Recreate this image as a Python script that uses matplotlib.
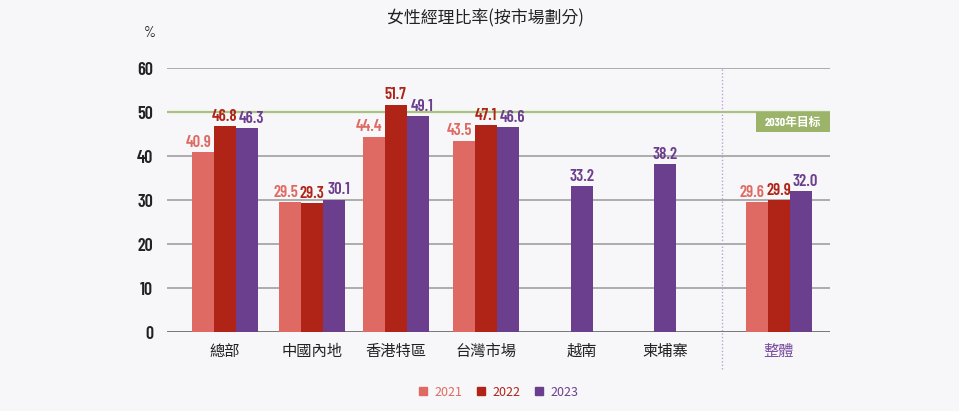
import matplotlib.pyplot as plt
import matplotlib.patches as mpatches
import numpy as np

plt.rcParams['font.family'] = ['Noto Sans CJK TC', 'DejaVu Sans']

categories = ['總部', '中國內地', '香港特區', '台灣市場', '越南', '柬埔寨', '整體']
years = ['2021', '2022', '2023']
v2021 = [40.9, 29.5, 44.4, 43.5, None, None, 29.6]
v2022 = [46.8, 29.3, 51.7, 47.1, None, None, 29.9]
v2023 = [46.3, 30.1, 49.1, 46.6, 33.2, 38.2, 32.0]
target = 50
target_label = '2030年目标'
yticks = [0, 10, 20, 30, 40, 50, 60]

colors = ['#df6a63', '#b02418', '#6c3f8e']
bg = '#f7f7f9'
num_font = ['Barlow Condensed', 'DejaVu Sans']

# group centres (uneven spacing, with a gap before the total)
pos = np.array([0, 1, 1.96, 3, 4.1, 5.06, 6.36])
w = 0.253
label_shift = 0.05  # outer value labels are pushed apart a little

fig = plt.figure(figsize=(9.59, 4.11), dpi=100, facecolor=bg)
ax = fig.add_axes([0.174, 0.1922, 0.6915, 0.6423], facecolor=bg)

for y in yticks[1:]:
    ax.axhline(y, color='#a0a0a0', linewidth=1.2, zorder=1)
ax.axhline(0, color='#777777', linewidth=1.4, zorder=3)
ax.axhline(target, color='#a9c27f', linewidth=1.6, zorder=2)

series = [v2021, v2022, v2023]
for i, vals in enumerate(series):
    for j, v in enumerate(vals):
        if v is None:
            continue
        n = sum(1 for s in series if s[j] is not None)
        if n == 1:
            x, lx = pos[j], pos[j]
        else:
            x = pos[j] + (i - 1) * w
            lx = x + (i - 1) * label_shift
        ax.bar(x, v, width=w, color=colors[i], zorder=4)
        ax.text(lx, v + 0.5, f'{v:.1f}', ha='center', va='bottom',
                color=colors[i], fontsize=12, fontweight='semibold',
                family=num_font, zorder=5)

# target label box
ax.add_patch(mpatches.Rectangle((6.10, 45.45), 0.85, 4.55, facecolor='#9cb46a',
                                edgecolor='none', zorder=6))
ax.text(6.525, 47.6, target_label, ha='center', va='center', color='white',
        fontsize=8.5, fontweight='bold', zorder=7,
        family=['Barlow Condensed', 'Noto Sans CJK SC'])

# dotted separator before total
sep = (pos[5] + pos[6]) / 2
ax.plot([sep, sep], [-8.5, 60], color='#b9a3d4', linestyle=(0, (1, 1.5)),
        linewidth=1, clip_on=False, zorder=2)

ax.set_xlim(-0.667, 6.95)
ax.set_ylim(0, 60)
ax.set_yticks(yticks)
ax.set_yticklabels([str(t) for t in yticks], family=num_font,
                   fontsize=13, fontweight='semibold', color='#222222')
ax.tick_params(axis='y', length=0, pad=10)
ax.set_xticks(pos)
ax.set_xticklabels(categories, fontsize=11, fontweight='medium', color='#222222')
ax.get_xticklabels()[-1].set_color('#7a4fa0')
ax.tick_params(axis='x', length=0, pad=8)
for s in ax.spines.values():
    s.set_visible(False)

ax.text(-0.86, 68, '%', ha='center', va='center', fontsize=11,
        color='#222222', family=num_font)

fig.text(0.5057, 0.955, '女性經理比率(按市場劃分)', ha='center', va='center',
         fontsize=12.2, color='#222222')

handles = [mpatches.Patch(color=c, label=y) for c, y in zip(colors, years)]
leg = fig.legend(handles=handles, loc='center', bbox_to_anchor=(0.52, 0.046),
                 ncol=3, frameon=False, fontsize=9, handlelength=0.6,
                 handleheight=0.6, handletextpad=0.6, columnspacing=1.2)
for t, c in zip(leg.get_texts(), colors):
    t.set_color(c)

fig.savefig('out.png', dpi=100, facecolor=bg)
